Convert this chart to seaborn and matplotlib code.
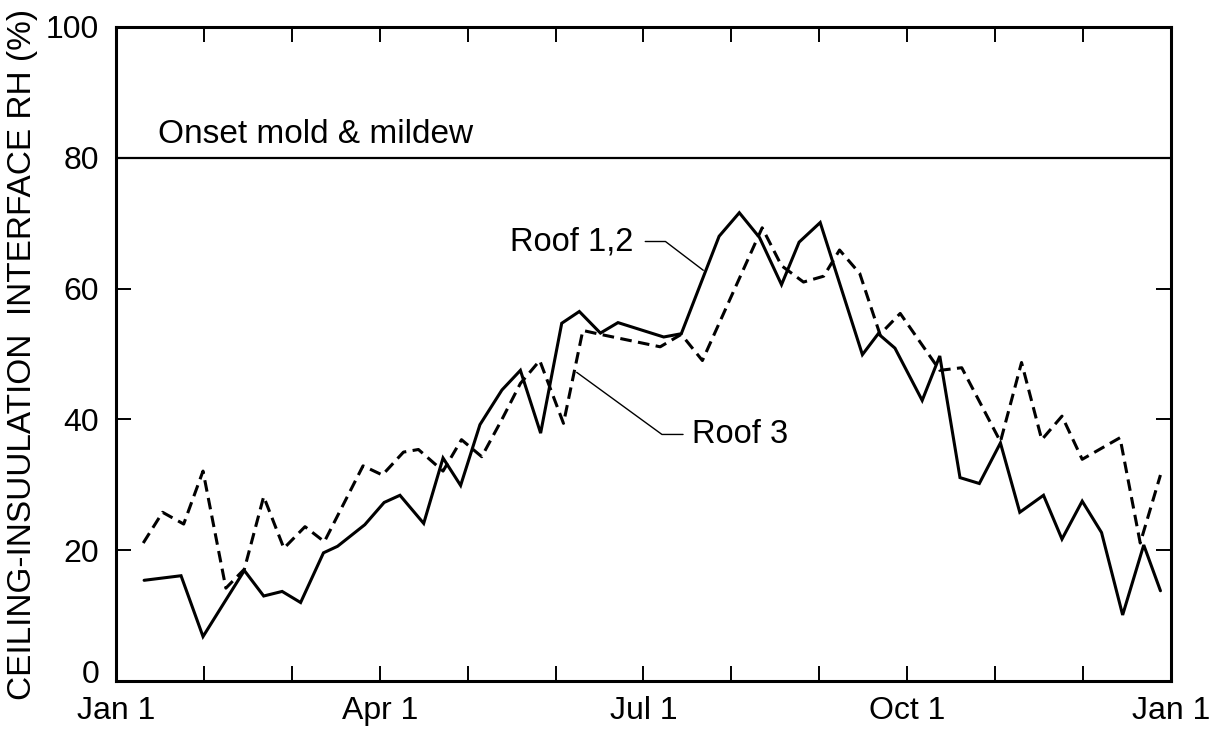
import matplotlib
matplotlib.use("Agg")
import matplotlib.pyplot as plt
import matplotlib.transforms as mtransforms
import seaborn as sns
import pandas as pd

# x in months since Jan 1 (0..12), y = relative humidity (%)
roof12_x = [0.32, 0.74, 0.99, 1.25, 1.46, 1.68, 1.89, 2.10, 2.36, 2.52, 2.83, 3.05, 3.23,
            3.50, 3.72, 3.92, 4.14, 4.39, 4.60, 4.83, 5.07, 5.27, 5.51, 5.71, 6.23, 6.43,
            6.86, 7.09, 7.32, 7.57, 7.77, 8.01, 8.49, 8.67, 8.86, 9.17, 9.37, 9.60, 9.82,
            10.06, 10.28, 10.55, 10.76, 10.99, 11.21, 11.45, 11.69, 11.88]
roof12_y = [15.4, 16.1, 6.8, 12.4, 16.9, 13.0, 13.7, 12.0, 19.6, 20.6, 23.9, 27.3, 28.4,
            24.1, 34.1, 29.9, 39.2, 44.5, 47.5, 37.9, 54.7, 56.5, 53.2, 54.8, 52.6, 53.1,
            68.0, 71.6, 67.8, 60.6, 67.1, 70.1, 49.9, 53.1, 50.9, 42.9, 49.7, 31.1, 30.2,
            36.4, 25.8, 28.4, 21.7, 27.5, 22.7, 10.1, 20.8, 13.8]

roof3_x = [0.31, 0.53, 0.77, 0.99, 1.25, 1.46, 1.68, 1.91, 2.15, 2.37, 2.81, 3.03, 3.27,
           3.44, 3.72, 3.93, 4.16, 4.39, 4.60, 4.82, 5.09, 5.31, 5.51, 6.19, 6.43, 6.67,
           7.35, 7.57, 7.82, 8.05, 8.23, 8.46, 8.69, 8.92, 9.37, 9.62, 10.06, 10.30,
           10.53, 10.76, 10.99, 11.42, 11.65, 11.88]
roof3_y = [21.1, 25.8, 24.0, 32.1, 14.2, 17.1, 28.2, 20.3, 23.6, 21.3, 32.9, 31.5, 35.0,
           35.4, 32.1, 36.9, 34.3, 40.0, 45.5, 49.0, 39.4, 53.6, 53.0, 51.1, 53.0, 49.0,
           69.3, 63.5, 61.0, 61.9, 65.9, 62.3, 53.0, 56.2, 47.5, 47.9, 36.6, 48.7,
           36.9, 40.5, 33.9, 37.2, 21.1, 31.5]

threshold = 80
month_ticks = list(range(13))
tick_labels = {0: "Jan 1", 3: "Apr 1", 6: "Jul 1", 9: "Oct 1", 12: "Jan 1"}
y_ticks = [0, 20, 40, 60, 80, 100]

sns.set_theme(style="ticks")
plt.rcParams["font.family"] = ["Liberation Sans", "DejaVu Sans"]
plt.rcParams["text.color"] = "black"
plt.rcParams["axes.labelcolor"] = "black"

df12 = pd.DataFrame({"month": roof12_x, "rh": roof12_y})
df3 = pd.DataFrame({"month": roof3_x, "rh": roof3_y})

fig = plt.figure(figsize=(12.17, 7.29), dpi=100)
ax = fig.add_axes([0.0953, 0.0658, 0.8669, 0.8972])

sns.lineplot(data=df12, x="month", y="rh", ax=ax, color="black", linewidth=2.2,
             solid_joinstyle="miter")
sns.lineplot(data=df3, x="month", y="rh", ax=ax, color="black", linewidth=2.2,
             dashes=False, linestyle=(0, (3.8, 2.1)))

ax.axhline(threshold, color="black", linewidth=1.6)
ax.text(0.48, threshold + 2.3, "Onset mold & mildew", fontsize=24, color="black",
        ha="left", va="baseline")

# leader annotations
ax.text(5.88, 67.2, "Roof 1,2", fontsize=23.5, color="black", ha="right", va="center")
ax.plot([6.02, 6.25, 6.68], [67.2, 67.2, 62.8], color="black", linewidth=1.0)
ax.text(6.55, 37.7, "Roof 3", fontsize=23.5, color="black", ha="left", va="center")
ax.plot([6.45, 6.21, 5.24], [37.7, 37.7, 47.2], color="black", linewidth=1.0)

ax.set_xlim(0, 12)
ax.set_ylim(0, 100)
ax.set_xticks(month_ticks)
ax.set_xticklabels([tick_labels.get(m, "") for m in month_ticks])
ax.set_yticks(y_ticks)
ax.set_yticklabels([str(v) for v in y_ticks])
ax.tick_params(axis="both", direction="in", length=11, width=1.4, labelsize=23,
               top=True, right=True, color="black", labelcolor="black")
ax.tick_params(axis="x", pad=11)
ax.tick_params(axis="y", pad=12)
ax.set_xlabel("")
ax.set_ylabel("CEILING-INSUULATION  INTERFACE RH (%)", fontsize=24, color="black",
              labelpad=6)
for s in ax.spines.values():
    s.set_linewidth(2.2)
    s.set_color("black")
    s.set_visible(True)

# lift the "0" label slightly, as in the reference, so it clears "Jan 1"
zero_lbl = ax.get_yticklabels()[0]
zero_lbl.set_transform(zero_lbl.get_transform() +
                       mtransforms.ScaledTranslation(0, 7 / 72, fig.dpi_scale_trans))

fig.savefig("out.png", dpi=100, facecolor="white")
